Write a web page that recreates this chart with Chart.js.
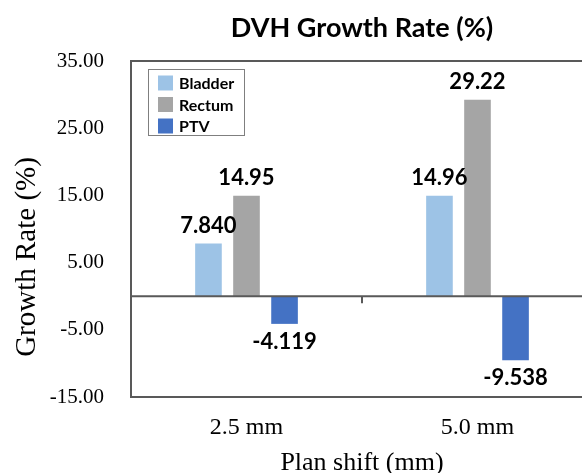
<!DOCTYPE html>
<html>
<head>
<meta charset="utf-8">
<script src="https://cdn.jsdelivr.net/npm/chart.js@4"></script>
<style>
  html, body { margin: 0; padding: 0; overflow: hidden; background: #fff; }
  #wrap { width: 708px; height: 473px; }
</style>
</head>
<body>
<div id="wrap"><canvas id="chart" width="708" height="473"></canvas></div>
<script>
const categories = ["2.5 mm", "5.0 mm"];
const seriesNames = ["Bladder", "Rectum", "PTV"];
const bladder = [7.840, 14.96];
const rectum = [14.95, 29.22];
const ptv = [-4.119, -9.538];
const yMin = -15;
const yMax = 35;
const yStep = 10;

const seriesColors = ["#9DC3E6", "#A5A5A5", "#4472C4"];
const lineColor = "#595959";
const serif = "'Liberation Serif', 'Times New Roman', serif";
const sans = "Lato, 'Open Sans', sans-serif";

// frame lines the axes don't give us: top edge, zero line + its category tick
const framePlugin = {
  id: "frame",
  afterDatasetsDraw(chart) {
    const { ctx, chartArea } = chart;
    const y0 = chart.scales.y.getPixelForValue(0);
    const x = chart.scales.x;
    const mid = (x.getPixelForValue(0) + x.getPixelForValue(1)) / 2;
    ctx.save();
    ctx.strokeStyle = lineColor;
    ctx.lineWidth = 2;
    ctx.beginPath();
    ctx.moveTo(chartArea.left, chartArea.top);
    ctx.lineTo(chartArea.right, chartArea.top);
    ctx.moveTo(chartArea.left, y0);
    ctx.lineTo(chartArea.right, y0);
    ctx.moveTo(mid, y0);
    ctx.lineTo(mid, y0 + 7);
    ctx.stroke();
    ctx.restore();
  },
};

// value labels above / below each bar
const valueLabels = {
  id: "valueLabels",
  afterDatasetsDraw(chart) {
    const { ctx } = chart;
    ctx.save();
    ctx.font = "bold 22px " + sans;
    ctx.fillStyle = "#000";
    ctx.textAlign = "center";
    ctx.textBaseline = "middle";
    chart.data.datasets.forEach((ds, i) => {
      chart.getDatasetMeta(i).data.forEach((bar, j) => {
        const v = ds.data[j];
        const y = v >= 0 ? bar.y - 18 : bar.y + 18;
        ctx.fillText(v.toPrecision(4), bar.x, y);
      });
    });
    ctx.restore();
  },
};

// boxed legend sitting inside the plot area
const boxLegend = {
  id: "boxLegend",
  afterDraw(chart) {
    const { ctx, chartArea } = chart;
    const left = chartArea.left + 17;
    const top = chartArea.top + 8;
    ctx.save();
    ctx.fillStyle = "#fff";
    ctx.fillRect(left, top, 96, 66);
    ctx.strokeStyle = "#7f7f7f";
    ctx.lineWidth = 1;
    ctx.strokeRect(left + 0.5, top + 0.5, 96, 66);
    ctx.font = "bold 16px " + sans;
    ctx.textBaseline = "middle";
    chart.data.datasets.forEach((ds, i) => {
      const cy = top + 14 + i * 21.5;
      ctx.fillStyle = ds.backgroundColor;
      ctx.fillRect(left + 10, cy - 7.5, 15, 15);
      ctx.fillStyle = "#000";
      ctx.fillText(ds.label, left + 31, cy + 1);
    });
    ctx.restore();
  },
};

// rotated y title, placed where the original has it
const yTitle = {
  id: "yTitle",
  afterDraw(chart) {
    const { ctx } = chart;
    ctx.save();
    ctx.translate(27, 257);
    ctx.rotate(-Math.PI / 2);
    ctx.font = "29px " + serif;
    ctx.fillStyle = "#000";
    ctx.textAlign = "center";
    ctx.textBaseline = "middle";
    ctx.fillText("Growth Rate (%)", 0, 0);
    ctx.restore();
  },
};

const values = [bladder, rectum, ptv];

new Chart(document.getElementById("chart"), {
  type: "bar",
  data: {
    labels: categories,
    datasets: seriesNames.map((name, i) => ({
      label: name,
      data: values[i],
      backgroundColor: seriesColors[i],
      categoryPercentage: 0.494,
      barPercentage: 0.7,
    })),
  },
  options: {
    responsive: false,
    animation: false,
    layout: { padding: { left: 0, right: 115, top: 0, bottom: 0 } },
    plugins: {
      legend: { display: false },
      tooltip: { enabled: false },
      title: {
        display: true,
        fullSize: false,
        text: "DVH Growth Rate (%)",
        color: "#000",
        font: { family: sans, size: 27, weight: "bold" },
        padding: { top: 12, bottom: 16.6 },
      },
    },
    scales: {
      x: {
        grid: { display: false, drawTicks: false },
        border: { display: true, color: lineColor, width: 2 },
        ticks: {
          color: "#000",
          font: { family: serif, size: 24 },
          padding: 16,
        },
        title: {
          display: true,
          text: "Plan shift (mm)",
          color: "#000",
          font: { family: serif, size: 26, lineHeight: 1 },
          padding: { top: 0, bottom: -3 },
        },
        afterFit(scale) {
          scale.height = 76;
        },
      },
      y: {
        min: yMin,
        max: yMax,
        grid: { display: false, drawTicks: false },
        border: { display: true, color: lineColor, width: 2 },
        ticks: {
          stepSize: yStep,
          color: "#000",
          font: { family: serif, size: 21 },
          padding: 27,
          callback: (v) => Number(v).toFixed(2),
        },
        afterFit(scale) {
          scale.width = 131;
        },
      },
    },
  },
  plugins: [framePlugin, valueLabels, boxLegend, yTitle],
});
</script>
</body>
</html>
